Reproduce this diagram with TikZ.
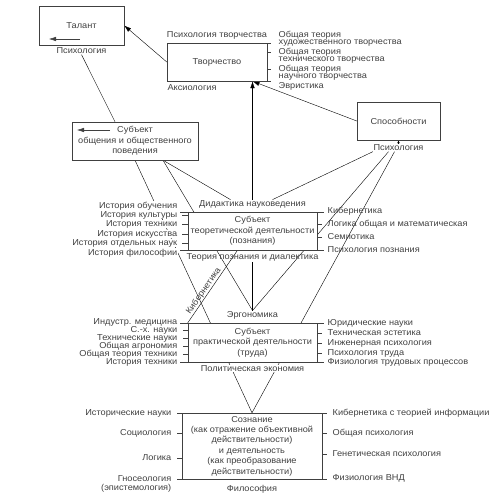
\documentclass[tikz,border=0pt]{standalone}
\usepackage{fontspec}
\setmainfont{Liberation Sans}[FakeStretch=1.07]
\usetikzlibrary{positioning,arrows.meta,backgrounds}

\tikzset{
    box/.style={draw, fill=white, align=center, inner sep=0pt},
    lbl/.style={inner sep=0.5pt},
    wlbl/.style={lbl, fill=white},
    arr/.style={-{Latex[length=7pt,width=4.5pt]}},
}

\begin{document}
\begin{tikzpicture}[x=1pt, y=-1pt, color=black!75, line width=0.45pt,
    font=\fontsize{8.6}{10.4}\selectfont]
    \useasboundingbox (0,0) rectangle (495,501);

    % boxes
    \node[box, minimum width=85pt, minimum height=39pt] (talant) at (81.5,25.5) {Талант};
    \node[box, minimum width=100pt, minimum height=38pt] (tvor) at (217,62) {Творчество};
    \node[box, minimum width=126pt, minimum height=38pt] (obsh) at (135,141)
        {Субъект\\общения и общественного\\поведения};
    \node[box, minimum width=83pt, minimum height=38pt] (sposob) at (398.5,121) {Способности};
    \node[box, minimum width=129pt, minimum height=38pt] (teor) at (252.5,231)
        {Субъект\\теоретической деятельности\\(познания)};
    \node[box, minimum width=129pt, minimum height=39pt] (prakt) at (252.5,342.5)
        {Субъект\\практической деятельности\\(труда)};
    \node[box, minimum width=140pt, minimum height=66pt] (soz) at (252,446)
        {Сознание\\(как отражение объективной\\действительности)\\и деятельность\\(как преобразование\\действительности)};
    \draw[arr] ([shift={(-1.5,13.5)}]talant.center) -- ++(-31,0);
    \draw[arr] ([shift={(-25,-11)}]obsh.center) -- ++(-33,0);

    % labels round the boxes
    \node[lbl, below=2pt of talant] (psyTal) {Психология};
    \node[lbl, above=3pt of tvor] (psyTvor) {Психология творчества};
    \node[lbl, below=3pt of tvor.south west, anchor=north west] (aksio) {Аксиология};
    \node[lbl, below=4pt of sposob] (psySp) {Психология};
    \node[lbl, above=3pt of teor] (didakt) {Дидактика науковедения};
    \node[lbl, below=3pt of teor] (teoria) {Теория познания и диалектика};
    \node[lbl, above=3pt of prakt] (ergo) {Эргономика};
    \node[wlbl, below=3pt of prakt] (polit) {Политическая экономия};
    \node[lbl, below=5pt of soz] (filos) {Философия};

    % lists
    \foreach \y/\t [count=\i] in {35/Общая теория, 43/художественного творчества,
        52/Общая теория, 60/технического творчества, 69/Общая теория,
        77/научного творчества, 86/Эвристика}
        \node[lbl, anchor=west] (tv\i) at (278,\y) {\t};
    \foreach \y/\t [count=\i] in {206/История обучения, 215/История культуры,
        224/История техники, 234/История искусства, 243/История отдельных наук,
        253/История философии}
        \node[wlbl, anchor=east] (tl\i) at (178,\y) {\t};
    \foreach \y/\t [count=\i] in {211/Кибернетика, 224/Логика общая и математическая,
        237/Семиотика, 250/Психология познания}
        \node[lbl, anchor=west] (tr\i) at (327,\y) {\t};
    \foreach \y/\t [count=\i] in {322/Индустр. медицина, 330/С.-х. науки,
        338/Технические науки, 346/Общая агрономия, 354/Общая теория техники,
        362/История техники}
        \node[lbl, anchor=east] (pl\i) at (178,\y) {\t};
    \foreach \y/\t [count=\i] in {323/Юридические науки, 333/Техническая эстетика,
        343/Инженерная психология, 353/Психология труда,
        362/Физиология трудовых процессов}
        \node[lbl, anchor=west] (pr\i) at (327,\y) {\t};
    \foreach \y/\t [count=\i] in {413/Исторические науки, 433/Социология,
        458/Логика, 479/Гносеология}
        \node[lbl, anchor=east] (sl\i) at (172,\y) {\t};
    \node[lbl, below=1pt of sl4.south east, anchor=north east] (epist) {(эпистемология)};
    \foreach \y/\t [count=\i] in {413/Кибернетика с теорией информации,
        433/Общая психология, 454/Генетическая психология, 478/Физиология ВНД}
        \node[lbl, anchor=west] (sr\i) at (332,\y) {\t};

    % ticks
    \draw (tvor.north east) -- ++(4,0) (tvor.south east) -- ++(4,0);
    \foreach \i in {3,5} \draw (tvor.east |- tv\i) -- ++(4,0);
    \draw (teor.north west) -- ++(-8,0) (teor.south west) -- ++(-8,0);
    \draw (teor.north east) -- ++(7,0) (teor.south east) -- ++(7,0);
    \foreach \i in {2,...,5} \draw (teor.west |- tl\i) -- ++(-6,0);
    \foreach \i in {2,3} \draw (teor.east |- tr\i) -- ++(5,0);
    \draw (prakt.north west) -- ++(-8,0) (prakt.south west) -- ++(-8,0);
    \draw (prakt.north east) -- ++(7,0) (prakt.south east) -- ++(7,0);
    \foreach \i in {2,...,5} \draw (prakt.west |- pl\i) -- ++(-5,0);
    \foreach \i in {2,3,4} \draw (prakt.east |- pr\i) -- ++(5,0);
    \draw (soz.north west) -- ++(-5,0) (soz.south west) -- ++(-5,0);
    \draw (soz.north east) -- ++(5,0) (soz.south east) -- ++(5,0);
    \foreach \i in {2,3} \draw (soz.west |- sl\i) -- ++(-5,0);
    \foreach \i in {2,3} \draw (soz.east |- sr\i) -- ++(5,0);

    % connectors
    \begin{scope}[on background layer]
        \draw[arr] (tvor.west) -- (talant.east);
        \draw (psyTal.south) -- ([xshift=-20pt]obsh.north);
        \coordinate (tvIn) at (didakt.north |- tvor.south);
        \draw[arr] (didakt.north) -- (tvIn);
        \draw[arr] (sposob.west) -- (tvIn);
        \draw[-{Latex[length=3pt,width=2.5pt]}] (psySp.north) -- (sposob.south);
        \draw (obsh.south) -- (soz.north);
        \draw ([xshift=28pt]obsh.south) -- ([xshift=-22pt]didakt.north);
        \draw ([xshift=28pt]obsh.south) -- (ergo.north);
        \draw (psySp.south west) -- ([xshift=20pt]didakt.north);
        \draw ([xshift=-10pt]psySp.south) -- (ergo.north);
        \draw ([xshift=-4pt]psySp.south) -- (soz.north);
        \draw (teoria.south) -- (ergo.north);
        \draw (prakt.north west) -- ([xshift=-15pt]teor.south)
            node[lbl, pos=0.4, sloped, above] (kib) {Кибернетика};
    \end{scope}
\end{tikzpicture}
\end{document}
